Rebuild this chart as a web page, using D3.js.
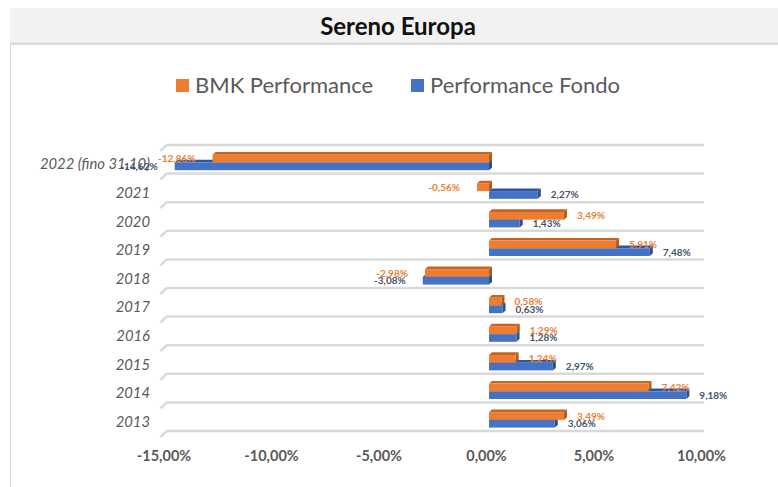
<!DOCTYPE html>
<html><head><meta charset="utf-8">
<script src="https://cdn.jsdelivr.net/npm/d3@7"></script>
<style>
html,body{margin:0;padding:0;background:#fff;}
svg{display:block;}
</style></head>
<body>
<svg id="c" width="778" height="487"></svg>
<script>
const categories = ["2022 (fino 31.10)","2021","2020","2019","2018","2017","2016","2015","2014","2013"];
const bmk   = [-12.86, -0.56, 3.49, 5.91, -2.98, 0.58, 1.29, 1.24, 7.42, 3.49];
const fondo = [-14.62,  2.27, 1.43, 7.48, -3.08, 0.63, 1.28, 2.97, 9.18, 3.06];
const seriesNames = ["BMK Performance","Performance Fondo"];
const tickValues = [-15,-10,-5,0,5,10];

const FONT = "Lato, 'Open Sans', sans-serif";
const svg = d3.select("#c");

// title band + chart frame
svg.append("rect").attr("x",10.5).attr("y",44.5).attr("width",780).attr("height",460)
  .attr("fill","#fff").attr("stroke","#d9d9d9");
svg.append("rect").attr("x",10).attr("y",8).attr("width",780).attr("height",36).attr("fill","#f2f2f2");
svg.append("line").attr("x1",10).attr("x2",790).attr("y1",43.5).attr("y2",43.5).attr("stroke","#d9d9d9").attr("stroke-width",2);
svg.append("text").attr("x",398).attr("y",35).attr("text-anchor","middle")
  .attr("font-family",FONT).attr("font-weight","bold").attr("font-size",24).attr("fill","#111")
  .text("Sereno Europa");

// legend
const legend = [{name:seriesNames[0], color:"#ED7D31", x:176},{name:seriesNames[1], color:"#4472C4", x:411}];
legend.forEach(l=>{
  svg.append("rect").attr("x",l.x).attr("y",79).attr("width",13).attr("height",13).attr("fill",l.color);
  svg.append("text").attr("x",l.x+19).attr("y",93).attr("font-family",FONT).attr("font-size",22)
    .attr("fill","#595959").text(l.name);
});

// scales
const x = d3.scaleLinear().domain([-15,10]).range([166.5,704]);
const y = d3.scaleBand().domain(categories).range([145,431]).paddingInner(0).paddingOuter(0);
const bw = y.bandwidth();

// floor / gridlines
const gl = svg.append("g");
const lineYs = categories.map(c=>y(c)).concat([y(categories[categories.length-1])+bw]);
lineYs.forEach(ly=>{
  gl.append("line").attr("x1",x(-15)).attr("x2",x(10)).attr("y1",ly).attr("y2",ly)
    .attr("stroke","#d9d9d9").attr("stroke-width",2.5);
  gl.append("line").attr("x1",x(-15)).attr("x2",x(-15)-6).attr("y1",ly).attr("y2",ly+6)
    .attr("stroke","#d9d9d9").attr("stroke-width",2.5);
});

// category labels
svg.append("g").selectAll("text").data(categories).join("text")
  .attr("x",150).attr("y",d=>y(d)+bw/2+10)
  .attr("text-anchor","end").attr("font-family",FONT).attr("font-style","italic")
  .attr("font-size",14.8).attr("fill","#595959").text(d=>d);

// x axis
const fmt = d => d.toFixed(2).replace(".",",")+"%";
const ax = svg.append("g").attr("transform","translate(-3,448)")
  .call(d3.axisBottom(x).tickValues(tickValues).tickFormat(fmt).tickSize(0));
ax.select(".domain").remove();
ax.selectAll("text").attr("font-family",FONT).attr("font-weight","bold").attr("font-size",14.5)
  .attr("fill","#595959");

// 3D bars
const DX=3, DY=2.7, H=7.7;
function bar3d(g, v, yTop, front, dark, side){
  const x0 = Math.min(x(0),x(v)), x1 = Math.max(x(0),x(v));
  g.append("path").attr("d",`M${x0},${yTop}L${x0+DX},${yTop-DY}L${x1+DX},${yTop-DY}L${x1},${yTop}Z`).attr("fill",dark);
  g.append("path").attr("d",`M${x1},${yTop}L${x1+DX},${yTop-DY}L${x1+DX},${yTop+H-DY}L${x1},${yTop+H}Z`).attr("fill",side);
  g.append("rect").attr("x",x0).attr("y",yTop).attr("width",x1-x0).attr("height",H).attr("fill",front);
}
const bars = svg.append("g");
categories.forEach((c,i)=>{
  const b = y(c);
  bar3d(bars, fondo[i], b+17.5, "#4472C4", "#2F55A0", "#2B4F8F");
  bar3d(bars, bmk[i], b+9.8, "#ED7D31", "#C8631F", "#B5591C");
});

// data labels
const lab = svg.append("g").attr("font-family",FONT).attr("font-weight","bold").attr("font-size",10);
function addLabel(v, yc, color){
  const pos = v>=0;
  lab.append("text").attr("x", pos ? x(v)+13 : x(v)-17).attr("y",yc+3.5)
    .attr("text-anchor", pos ? "start":"end").attr("fill",color).text(fmt(v));
}
categories.forEach((c,i)=>{
  const b = y(c);
  addLabel(fondo[i], b+17.5+H/2, "#44546A");
  addLabel(bmk[i], b+9.8+H/2, "#ED7D31");
});
</script>
</body></html>
